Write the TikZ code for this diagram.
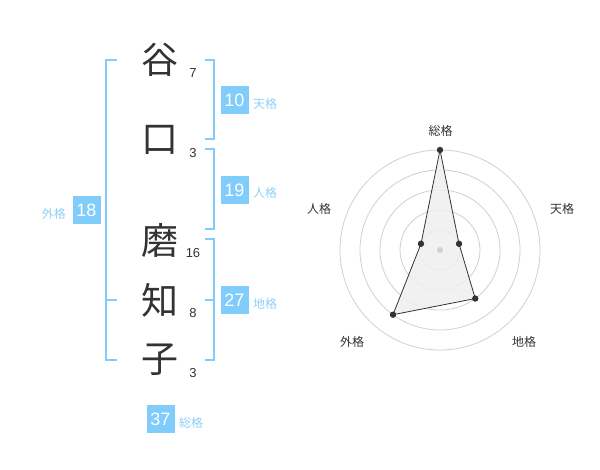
\documentclass[tikz,border=0pt]{standalone}
\usepackage{fontspec}
\setmainfont{Liberation Sans}
\newfontfamily\cjk{Noto Sans CJK JP}
\definecolor{skyb}{HTML}{80CCFB}
\definecolor{skylbl}{HTML}{8FD0F8}
\definecolor{ink}{HTML}{333333}
\definecolor{ring}{HTML}{D0D0D0}
\definecolor{areafill}{HTML}{EFEFEF}
\begin{document}
\begin{tikzpicture}[x=1pt,y=-1pt,
  kanji/.style={text=ink,font=\cjk\fontsize{37}{37}\selectfont,inner sep=0pt},
  strokes/.style={text=ink,font=\fontsize{13}{13}\selectfont,inner sep=0pt},
  scorebox/.style={fill=skyb,text=white,minimum width=28pt,minimum height=28pt,inner sep=0pt,font=\fontsize{18}{18}\selectfont},
  kakulbl/.style={text=skylbl,font=\cjk\fontsize{12}{12}\selectfont,inner sep=0pt},
  brk/.style={draw=skyb,line width=2pt},
  axislbl/.style={text=ink,font=\cjk\fontsize{12}{12}\selectfont,inner sep=0pt},
  ringline/.style={draw=ring,line width=0.8pt},
  dotpt/.style={fill=ink,draw=none}]
\useasboundingbox (0,0) rectangle (600,470);
% characters
\node[kanji] (c1) at (160,60) {谷};
\node[kanji] (c2) at (160,140) {口};
\node[kanji] (c3) at (160,240) {磨};
\node[kanji] (c4) at (160,300) {知};
\node[kanji] (c5) at (160,360) {子};
% stroke counts
\node[strokes] (s1) at (193,73) {7};
\node[strokes] (s2) at (193,153) {3};
\node[strokes] (s3) at (193,253) {16};
\node[strokes] (s4) at (193,313) {8};
\node[strokes] (s5) at (193,373) {3};
% brackets
\draw[brk] (117,60) -- (106,60) -- (106,360) -- (117,360);
\draw[brk] (106,300) -- (117,300);
\draw[brk] (205,60) -- (214,60) -- (214,139.5) -- (205,139.5);
\draw[brk] (205,149.5) -- (214,149.5) -- (214,229.5) -- (205,229.5);
\draw[brk] (205,239.5) -- (214,239.5) -- (214,360) -- (205,360);
\draw[brk] (205,300) -- (214,300);
% score boxes
\node[scorebox] (b10) at (234.5,100.5) {10};
\node[kakulbl,anchor=west] (l10) at (253,104) {天格};
\node[scorebox] (b19) at (234.5,190) {19};
\node[kakulbl,anchor=west] (l19) at (253,193) {人格};
\node[scorebox] (b27) at (234.5,300) {27};
\node[kakulbl,anchor=west] (l27) at (253,304) {地格};
\node[scorebox] (b18) at (86.5,210) {18};
\node[kakulbl,anchor=east] (l18) at (66,214) {外格};
\node[scorebox] (b37) at (160.5,419) {37};
\node[kakulbl,anchor=west] (l37) at (179,423) {総格};
% radar chart
\begin{scope}[shift={(440,250)},yscale=-1]
  \foreach \r in {20,40,60,80,100} \draw[ringline] (0,0) circle[radius=\r];
  \coordinate (pS) at (90:100);
  \coordinate (pT) at (18:20);
  \coordinate (pC) at (-54:60);
  \coordinate (pG) at (-126:80);
  \coordinate (pJ) at (162:20);
  \fill[ring] (0,0) circle[radius=3];
  \draw[fill=areafill,fill opacity=0.85,draw=ink,line width=0.8pt] (pS) -- (pT) -- (pC) -- (pG) -- (pJ) -- cycle;
  \foreach \p in {pS,pT,pC,pG,pJ} \fill[dotpt] (\p) circle[radius=3.2];
  \fill[ring] (0,0) circle[radius=3];
\end{scope}
\node[axislbl] (aS) at (440.5,130.5) {総格};
\node[axislbl] (aT) at (562,209) {天格};
\node[axislbl] (aC) at (524,342) {地格};
\node[axislbl] (aG) at (352,342) {外格};
\node[axislbl] (aJ) at (319,209) {人格};
\end{tikzpicture}
\end{document}
